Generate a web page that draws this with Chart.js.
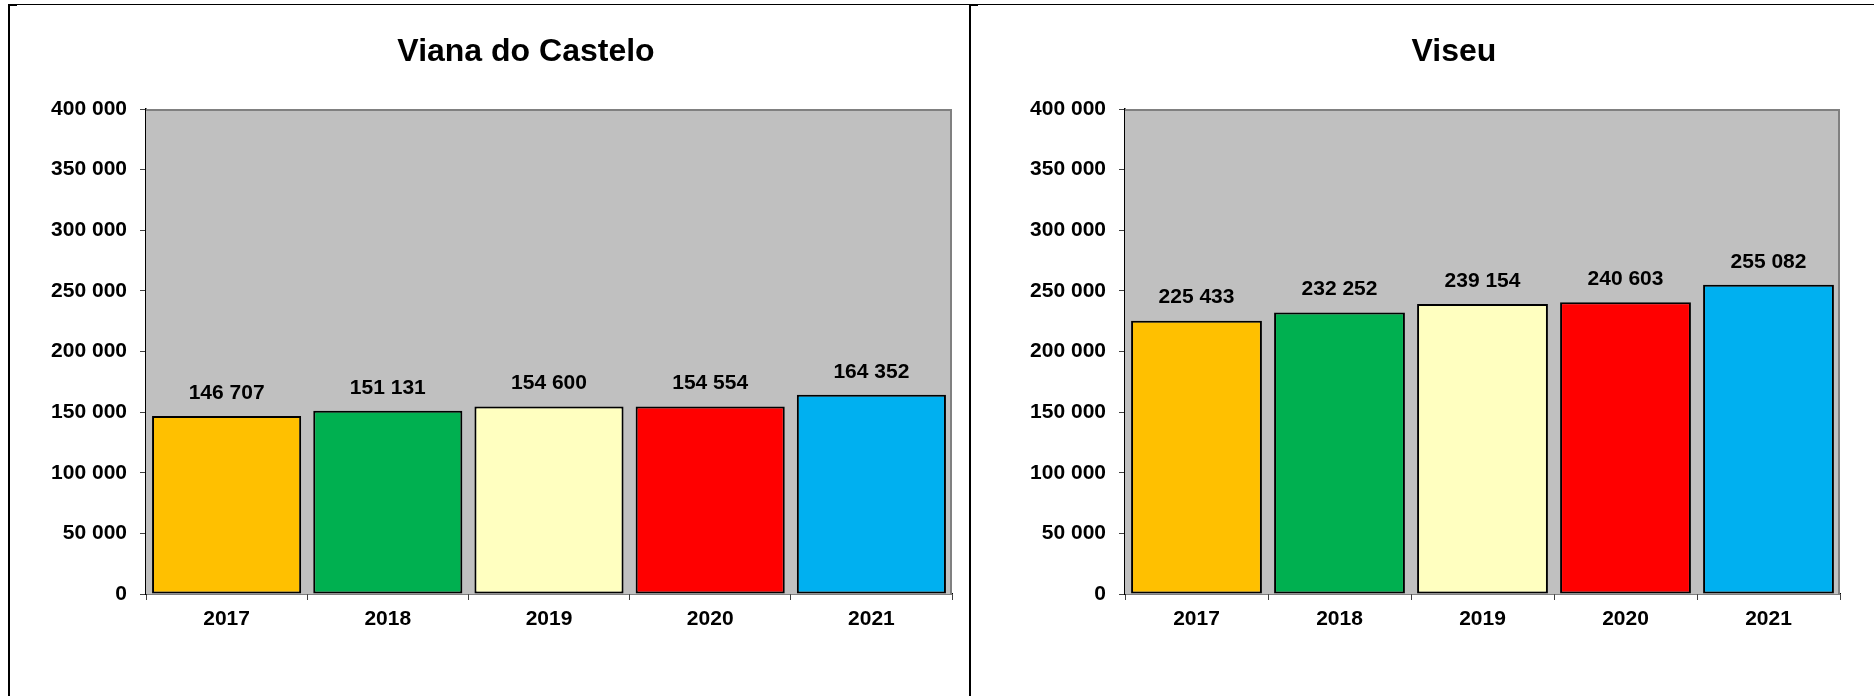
<!DOCTYPE html>
<html><head><meta charset="utf-8">
<script src="https://cdn.jsdelivr.net/npm/chart.js@4.4.1/dist/chart.umd.min.js"></script>
<style>
html,body{margin:0;padding:0;background:#fff;width:1874px;height:696px;overflow:hidden;}
.wrap{position:absolute;top:0;}
.line{position:absolute;background:#000;}
</style></head><body>
<div class="line" style="left:8px;top:4px;width:1866px;height:1px"></div>
<div class="line" style="left:8px;top:4px;width:9px;height:2px"></div>
<div class="line" style="left:8px;top:4px;width:2px;height:692px"></div>
<div class="line" style="left:969px;top:4px;width:2px;height:692px"></div>
<div class="line" style="left:969px;top:4px;width:9px;height:2px"></div>
<div class="wrap" style="left:10px;"><canvas id="c1" width="958" height="696" style="width:958px;height:696px"></canvas></div>
<div class="wrap" style="left:972px;"><canvas id="c2" width="902" height="696" style="width:902px;height:696px"></canvas></div>
<script>
const years = ['2017', '2018', '2019', '2020', '2021'];
const vianaValues = [146707, 151131, 154600, 154554, 164352];
const viseuValues = [225433, 232252, 239154, 240603, 255082];
const barColors = ['#FFC000', '#00B050', '#FFFFC0', '#FF0000', '#00B0F0'];
const yMin = 0, yMax = 400000, yStep = 50000;

const FONT = '"Liberation Sans", Arial, sans-serif';
function fmt(v){ return String(Math.round(v)).replace(/\B(?=(\d{3})+(?!\d))/g, ' '); }

const plotBg = {
  id: 'plotBg',
  beforeDatasetsDraw(chart){
    const {ctx, chartArea:a} = chart;
    ctx.save();
    ctx.fillStyle = '#C0C0C0';
    ctx.fillRect(a.left, a.top, a.right - a.left, a.bottom - a.top);
    ctx.strokeStyle = '#808080';
    ctx.lineWidth = 2;
    ctx.beginPath();
    ctx.moveTo(a.left, a.top + 1);
    ctx.lineTo(a.right - 1, a.top + 1);
    ctx.lineTo(a.right - 1, a.bottom);
    ctx.stroke();
    ctx.restore();
  }
};
const panelTitle = {
  id: 'panelTitle',
  afterDraw(chart, args, opts){
    const ctx = chart.ctx;
    ctx.save();
    ctx.font = 'bold 32px ' + FONT;
    ctx.fillStyle = '#000';
    ctx.textAlign = 'center';
    ctx.textBaseline = 'middle';
    ctx.fillText(opts.text, opts.x, 52);
    ctx.restore();
  }
};
const valueLabels = {
  id: 'valueLabels',
  afterDatasetsDraw(chart){
    const ctx = chart.ctx;
    const meta = chart.getDatasetMeta(0);
    const data = chart.data.datasets[0].data;
    ctx.save();
    ctx.font = 'bold 21px ' + FONT;
    ctx.fillStyle = '#000';
    ctx.textAlign = 'center';
    ctx.textBaseline = 'middle';
    meta.data.forEach((bar, i) => ctx.fillText(fmt(data[i]), bar.x, bar.y - 23));
    ctx.restore();
  }
};

function makeChart(id, title, titleX, values, yWidth, padRight, barPct){
  return new Chart(document.getElementById(id), {
    type: 'bar',
    data: { labels: years, datasets: [{ data: values, backgroundColor: barColors, borderColor: '#000', borderWidth: 2, borderSkipped: false, barPercentage: barPct, categoryPercentage: 1 }] },
    options: {
      responsive: false, animation: false, devicePixelRatio: 1,
      layout: { padding: { left: 0, right: padRight, top: 109, bottom: 0 } },
      plugins: {
        legend: { display: false }, tooltip: { enabled: false }, title: { display: false },
        panelTitle: { text: title, x: titleX }
      },
      scales: {
        x: {
          grid: { display: true, drawOnChartArea: false, drawTicks: true, tickLength: 6, color: '#404040', offset: true },
          border: { display: true, color: '#000', width: 1.5 },
          ticks: { color: '#000', font: { family: FONT, size: 21, weight: 'bold' }, padding: 7, maxRotation: 0 },
          afterFit(s){ s.height = 102; }
        },
        y: {
          min: yMin, max: yMax,
          grid: { display: true, drawOnChartArea: false, drawTicks: true, tickLength: 6, color: '#404040' },
          border: { display: true, color: '#000', width: 1.5 },
          ticks: { stepSize: yStep, color: '#000', font: { family: FONT, size: 21, weight: 'bold' }, padding: 13, callback: v => fmt(v) },
          afterFit(s){ s.width = yWidth; }
        }
      }
    },
    plugins: [plotBg, valueLabels, panelTitle]
  });
}
makeChart('c1', 'Viana do Castelo', 516, vianaValues, 136, 16, 0.925);
makeChart('c2', 'Viseu', 482, viseuValues, 153, 34, 0.915);
</script>
</body></html>
